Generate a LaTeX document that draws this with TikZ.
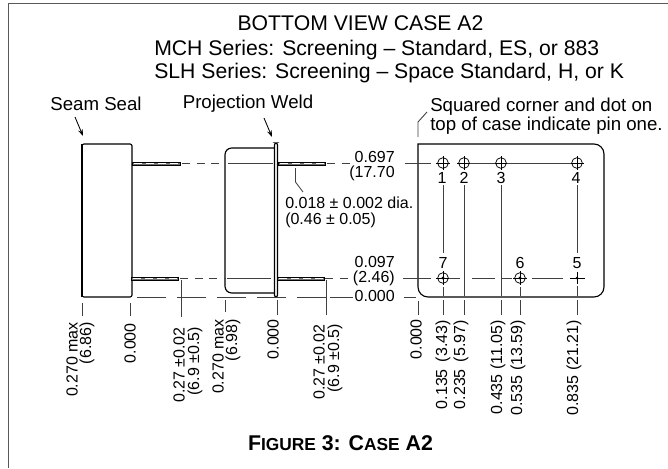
\documentclass[tikz,border=0pt]{standalone}
\usepackage{fontspec}
\setmainfont{Liberation Sans}
\usetikzlibrary{arrows.meta}
\tikzset{
 x=0.75pt,y=-0.75pt,
 ttl/.style={inner sep=0pt,font=\fontsize{15.9pt}{18pt}\selectfont,text=black},
 txt/.style={inner sep=0pt,font=\fontsize{14pt}{16pt}\selectfont,text=black},
 dim/.style={inner sep=0pt,font=\fontsize{12pt}{14pt}\selectfont,text=black},
 dimr/.style={dim,rotate=90,anchor=east},
 body/.style={draw=black,line width=0.85pt},
 lead/.style={draw=black!75,line width=0.65pt},
 dsh/.style={draw=black!75,line width=0.65pt,dash pattern=on 6pt off 5pt},
 dshlong/.style={draw=black!75,line width=0.65pt,dash pattern=on 22pt off 8pt},
 hole/.style={circle,draw=black,line width=0.55pt,minimum size=8pt,inner sep=0pt},
 pinbody/.style={draw=black,fill=black!55,line width=0.55pt},
 pinline/.style={draw=white,line width=0.7pt,dash pattern=on 6pt off 3pt},
 arr/.style={draw=black,line width=0.65pt,-{Stealth[length=5pt,width=3.5pt]}},
}
\begin{document}
\begin{tikzpicture}
\useasboundingbox (0,0) rectangle (668,468);
\fill[white] (0,0) rectangle (668,468);
\draw[draw=black!65,line width=0.75pt] (8,468) -- (8,3.5) -- (668,3.5);
% titles
\node[ttl] (t1) at (360.5,23) {BOTTOM VIEW CASE A2};
\node[ttl,anchor=west] (t2) at (154,50) {MCH Series: Screening – Standard, ES, or 883};
\node[ttl,anchor=west] (t3) at (154,73) {SLH Series: Screening – Space Standard, H, or K};
\node[txt] (l1) at (96,104) {Seam Seal};
\node[txt] (l2) at (248,104) {Projection Weld};
\node[txt,anchor=west] (l3) at (430,107) {Squared corner and dot on};
\node[txt,anchor=west] (l4) at (430,126) {top of case indicate pin one.};
% arrows
\coordinate (a1s) at (75,117); \coordinate (a1e) at (83,136);
\coordinate (a2s) at (264,118); \coordinate (a2e) at (272,137);
\draw[arr] (a1s) -- (a1e);
\draw[arr] (a2s) -- (a2e);
% side view 1
\draw[body,rounded corners=1.5pt] (82,144) rectangle (132,297);
\draw[draw=black,line width=1.5pt] (82,144) -- (82,297);
\path[pinbody] (132,162) rectangle (180,165);
\draw[pinline] (134,163.5) -- (179,163.5);
\path[pinbody] (131,277) rectangle (178,280);
\draw[pinline] (133,278.5) -- (177,278.5);
% side view 2
\draw[body,rounded corners=5pt] (274,148) -- (225,148) -- (225,293) -- (274,293);
\draw[body,fill=white,rounded corners=1.5pt] (274.5,143) rectangle (277.5,297);
\path[pinbody] (278,162) rectangle (325,165);
\draw[pinline] (280,163.5) -- (324,163.5);
\path[pinbody] (277,277) rectangle (324,280);
\draw[pinline] (279,278.5) -- (323,278.5);
\draw[lead] (228,163.5) -- (273,163.5);
\draw[lead] (227,278.5) -- (271,278.5);
% datum lines
\draw[dsh] (182,163.5) -- (224,163.5);
\draw[dsh] (180,278.5) -- (226,278.5);
\draw[dsh] (327,163.5) -- (354,163.5);
\draw[dsh] (325,278.5) -- (354,278.5);
\draw[dshlong] (137,297) -- (330,297);
\draw[lead] (330,297) -- (353,297);
% case bottom view
\draw[body] (418,200) [sharp corners] -- (418,144) [rounded corners=7.5pt] -- (604,144) -- (604,297) -- (418,297) -- (418,200);
% right dimension labels
\node[dim,anchor=east] (d1) at (395,157) {0.697};
\node[dim,anchor=east] (d2) at (395,173) {(17.70};
\node[dim,anchor=east] (d3) at (395,262) {0.097};
\node[dim,anchor=east] (d4) at (395,278) {(2.46)};
\node[dim,anchor=east] (d5) at (395,296) {0.000};
\draw[lead] (405,163) -- (431,163);
\draw[lead] (403,278) -- (431,278);
\draw[lead] (404,297) -- (416,297);
% holes
\foreach \n/\x/\y in {h1/443/163,h2/464/163,h3/501/163,h4/577/163,h7/443/278,h6/520/278}{
 \node[hole] (\n) at (\x,\y) {};
 \draw[line width=0.55pt] (\x-7,\y) -- (\x+7,\y) (\x,\y-7) -- (\x,\y+7);
}
\fill (h7) circle (1.2pt);
\fill (h6) circle (1.2pt);
\coordinate (h5) at (577,278);
\draw[line width=0.55pt] (570,278) -- (585,278) (577,272) -- (577,284);
\fill (h5) circle (1.1pt);
% connecting lines
\draw[lead] (470,163) -- (495,163);
\draw[lead] (507,163) -- (571,163);
\draw[lead] (449,278) -- (460,278);
\draw[lead] (472,278) -- (495,278);
\draw[lead] (502,278) -- (512,278);
\draw[lead] (532,278) -- (563,278);
% pin numbers
\node[dim] at (442,178) {1};
\node[dim] at (464,178) {2};
\node[dim] at (501,178) {3};
\node[dim] at (576,178) {4};
\node[dim] at (443,263) {7};
\node[dim] at (520,263) {6};
\node[dim] at (577,263) {5};
% verticals in case
\draw[lead] (443,185) -- (443,253);
\draw[lead] (464,185) -- (464,296);
\draw[lead] (501.5,185) -- (501.5,296);
\draw[lead] (577,185) -- (577,253);
\draw[lead] (443,287) -- (443,296);
\draw[lead] (520.5,287) -- (520.5,296);
\draw[lead] (577.5,286) -- (577.5,296);
% leader up from case
\coordinate (c1) at (418,137); \coordinate (c2) at (418,122); \coordinate (c3) at (427,112);
\draw[lead] (c1) -- (c2) -- (c3);
% dia. note
\node[dim,anchor=west] (n1) at (285,203) {0.018 ± 0.002 dia.};
\node[dim,anchor=west] (n2) at (285,220) {(0.46 ± 0.05)};
\draw[lead] (295.5,168) -- (295.5,182) -- (303,192);
% bottom ticks
\foreach \x/\a/\b in {82/303/316,130.5/303/316,225/300/312,277.5/300/315,418/301/315,443/300/315,464/300/315,501.5/300/315,520.5/300/315,577.5/300/315}{
 \draw[lead] (\x,\a) -- (\x,\b);
}
\draw[lead] (181,280) -- (181,317);
\draw[lead] (326,280) -- (326,315);
% rotated labels
\node[dimr] (b1) at (72,322) {0.270 max};
\node[dimr] (b1b) at (87,322) {(6.86)};
\node[dimr] (b2) at (130,323) {0.000};
\node[dimr] (b3) at (179,327) {0.27 ±0.02};
\node[dimr] (b3b) at (195,327) {(6.9 ±0.5)};
\node[dimr] (b4) at (218,319) {0.270 max};
\node[dimr] (b4b) at (233,319) {(6.98)};
\node[dimr] (b5) at (273,319) {0.000};
\node[dimr] (b6) at (319,324) {0.27 ±0.02};
\node[dimr] (b6b) at (335,324) {(6.9 ±0.5)};
\node[dimr] (b7) at (416,319) {0.000};
\node[dimr] (b8) at (443,320) {0.135\hspace{2pt} (3.43)};
\node[dimr] (b9) at (461,320) {0.235\hspace{2pt} (5.97)};
\node[dimr] (b10) at (498,320) {0.435 (11.05)};
\node[dimr] (b11) at (518,320) {0.535 (13.59)};
\node[dimr] (b12) at (574,320) {0.835 (21.21)};
% caption
\node[inner sep=0pt,font=\bfseries\fontsize{16pt}{18pt}\selectfont] (cap) at (340.5,443) {F{\fontsize{13pt}{18pt}\selectfont IGURE} 3: C{\fontsize{13pt}{18pt}\selectfont ASE} A2};
\end{tikzpicture}
\end{document}
